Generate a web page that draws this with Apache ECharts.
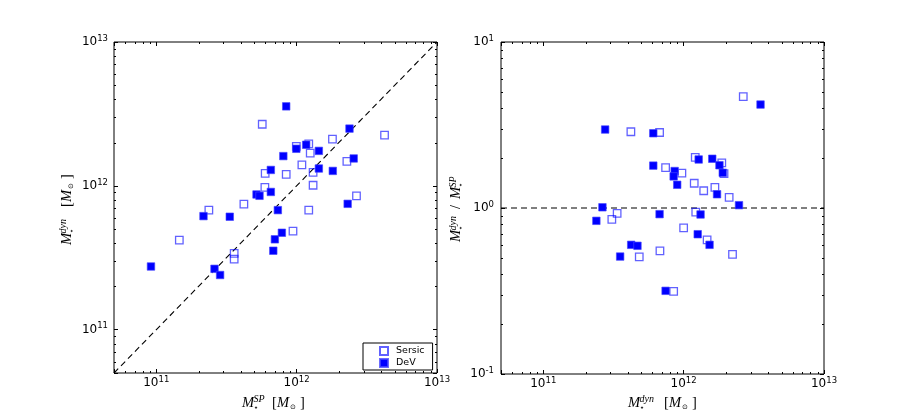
<!DOCTYPE html>
<html>
<head>
<meta charset="utf-8">
<script src="https://cdn.jsdelivr.net/npm/echarts@6/dist/echarts.min.js"></script>
<style>
html, body { margin: 0; padding: 0; background: #fff; }
#container { width: 915px; height: 416px; }
</style>
</head>
<body>
<div id="container"></div>
<script>
// left panel: M_SP vs M_dyn
var sersicLeft = [
    [5.69e11, 2.68e12], [4.23e12, 2.25e12], [1.80e12, 2.11e12], [9.95e11, 1.88e12],
    [1.22e12, 1.96e12], [1.25e12, 1.69e12], [1.09e12, 1.40e12], [1.31e12, 1.24e12],
    [2.28e12, 1.48e12], [5.97e11, 1.22e12], [8.43e11, 1.20e12], [1.31e12, 1.01e12],
    [5.94e11, 9.75e11], [2.67e12, 8.53e11], [4.21e11, 7.47e11], [2.37e11, 6.78e11],
    [1.22e12, 6.78e11], [9.42e11, 4.84e11], [3.59e11, 3.39e11], [3.59e11, 3.09e11],
    [1.46e11, 4.20e11]
];
var devLeft = [
    [8.43e11, 3.57e12], [2.38e12, 2.50e12], [9.95e11, 1.81e12], [1.17e12, 1.93e12],
    [1.44e12, 1.75e12], [8.04e11, 1.61e12], [6.55e11, 1.29e12], [1.44e12, 1.32e12],
    [1.81e12, 1.27e12], [2.55e12, 1.55e12], [5.18e11, 8.71e11], [5.44e11, 8.53e11],
    [6.55e11, 9.07e11], [2.31e12, 7.50e11], [7.35e11, 6.78e11], [2.17e11, 6.16e11],
    [3.34e11, 6.10e11], [7.00e11, 4.25e11], [7.85e11, 4.72e11], [6.82e11, 3.54e11],
    [9.17e10, 2.75e11], [2.60e11, 2.65e11], [2.85e11, 2.40e11]
];
// right panel: M_dyn vs M_dyn / M_SP
var sersicRight = [
    [2.66e12, 4.69], [4.21e11, 2.88], [6.74e11, 2.85], [7.44e11, 1.75],
    [1.21e12, 2.02], [1.87e12, 1.87], [1.94e12, 1.61], [9.72e11, 1.62],
    [1.19e12, 1.41], [1.39e12, 1.27], [1.67e12, 1.33], [2.11e12, 1.16],
    [3.36e11, 0.927], [3.08e11, 0.853], [1.22e12, 0.944], [1.00e12, 0.76],
    [1.47e12, 0.643], [6.78e11, 0.552], [4.83e11, 0.508], [2.23e12, 0.525],
    [8.49e11, 0.315]
];
var devRight = [
    [3.53e12, 4.20], [2.76e11, 2.97], [6.08e11, 2.82], [6.08e11, 1.80],
    [1.28e12, 1.96], [1.60e12, 1.98], [1.80e12, 1.81], [1.90e12, 1.63],
    [8.63e11, 1.67], [8.49e11, 1.55], [9.00e11, 1.38], [1.73e12, 1.21],
    [2.48e12, 1.04], [2.64e11, 1.01], [6.74e11, 0.918], [1.32e12, 0.914],
    [2.39e11, 0.837], [1.26e12, 0.695], [4.23e11, 0.60], [4.69e11, 0.592],
    [1.53e12, 0.60], [3.53e11, 0.51], [7.44e11, 0.317]
];

var massRange = [5e10, 1e13];
var ratioRange = [0.1, 10];
var oneToOne = [[5e10, 5e10], [1e13, 1e13]];
var unityRatio = [[5e10, 1], [1e13, 1]];
var minorMults = [2, 3, 4, 5, 6, 7, 8, 9];
var massDecades = [1e10, 1e11, 1e12];
var ratioDecades = [0.1, 1];

function minorTicks(decades, range) {
    var out = [];
    decades.forEach(function (d) {
        minorMults.forEach(function (m) {
            var v = m * d;
            if (v > range[0] && v < range[1]) out.push(v);
        });
    });
    return out;
}

function powLabel(v) {
    var e = Math.log10(v);
    var r = Math.round(e);
    if (Math.abs(e - r) > 1e-6) return '';
    return '{b|10}{s|' + r + '}';
}

var labelRich = {
    b: { fontFamily: 'DejaVu Sans', fontSize: 12, color: '#000', lineHeight: 16 },
    s: { fontFamily: 'DejaVu Sans', fontSize: 8.5, color: '#000', lineHeight: 8, verticalAlign: 'top' }
};

function axis(pos, gridIndex, range, labels, margin) {
    return {
        type: 'log',
        logBase: 10,
        gridIndex: gridIndex,
        position: pos,
        min: range[0],
        max: range[1],
        axisLine: { show: false },
        splitLine: { show: false },
        axisTick: { show: true, inside: true, length: 4, lineStyle: { color: '#000', width: 1 } },
        axisLabel: {
            show: labels,
            margin: margin,
            formatter: powLabel,
            rich: labelRich,
            showMinLabel: true,
            showMaxLabel: true,
            hideOverlap: false
        }
    };
}

function minorSeries(values, dir, xi, yi, fixed) {
    return {
        type: 'custom',
        xAxisIndex: xi,
        yAxisIndex: yi,
        silent: true,
        z: 1,
        data: values.map(function (v) { return dir === 'x' ? [v, fixed] : [fixed, v]; }),
        renderItem: function (params, api) {
            var p = api.coord([api.value(0), api.value(1)]);
            var cs = params.coordSys;
            var st = { stroke: '#000', lineWidth: 1 };
            if (dir === 'x') {
                var x = Math.round(p[0]) + 0.5;
                return { type: 'group', children: [
                    { type: 'line', shape: { x1: x, y1: cs.y + cs.height, x2: x, y2: cs.y + cs.height - 2 }, style: st },
                    { type: 'line', shape: { x1: x, y1: cs.y, x2: x, y2: cs.y + 2 }, style: st }
                ] };
            }
            var y = Math.round(p[1]) + 0.5;
            return { type: 'group', children: [
                { type: 'line', shape: { x1: cs.x, y1: y, x2: cs.x + 2, y2: y }, style: st },
                { type: 'line', shape: { x1: cs.x + cs.width, y1: y, x2: cs.x + cs.width - 2, y2: y }, style: st }
            ] };
        }
    };
}

var openStyle = { color: 'rgba(255,255,255,0)', borderColor: 'rgba(0,0,255,0.62)', borderWidth: 1.3, opacity: 1 };
var fillStyle = { color: '#0000ff', borderColor: 'rgba(70,70,255,0.8)', borderWidth: 0.8, opacity: 1 };

function scatter(name, data, xi, yi, style) {
    return {
        name: name,
        type: 'scatter',
        xAxisIndex: xi,
        yAxisIndex: yi,
        symbol: 'rect',
        symbolSize: 7.5,
        itemStyle: style,
        z: 3,
        emphasis: { disabled: true },
        data: data
    };
}

function dashed(data, xi, yi) {
    return {
        type: 'line',
        xAxisIndex: xi,
        yAxisIndex: yi,
        data: data,
        symbol: 'none',
        silent: true,
        clip: true,
        z: 2,
        lineStyle: { color: '#000', width: 1.1, type: [6, 4] }
    };
}

// math-style axis titles built from small text pieces
var serif = '"Liberation Serif", "DejaVu Serif", serif';
function t(text, x, y, size, italic, fam) {
    return {
        type: 'text', x: x, y: y, silent: true,
        style: {
            text: text, fill: '#000',
            font: (italic ? 'italic ' : '') + size + 'px ' + (fam || serif),
            verticalAlign: 'middle', align: 'left'
        }
    };
}
function massPart(x0, sup) {
    return [
        t('M', x0, 0, 14.5, true),
        t(sup, x0 + 11.5, -3.5, 10, true),
        t('\u22c6', x0 + 11.5, 4.5, 8, false, '"DejaVu Sans"')
    ];
}
function unitPart(x0) {
    return [
        t('[', x0, 0, 14.5, false),
        t('M', x0 + 5, 0, 14.5, true),
        t('\u2299', x0 + 18, 4.5, 7, false, '"DejaVu Sans"'),
        t(']', x0 + 28, 0, 14.5, false)
    ];
}
function title(x, y, rot, children) {
    return { type: 'group', x: x, y: y, rotation: rot, children: children };
}

var dom = document.getElementById('container');
var chart = echarts.init(dom, null, { renderer: 'canvas' });

var option = {
    backgroundColor: '#fff',
    animation: false,
    grid: [
        { left: 114, top: 42, width: 323, height: 331, show: true, borderColor: '#000', borderWidth: 1, backgroundColor: 'transparent' },
        { left: 501, top: 42, width: 323, height: 332, show: true, borderColor: '#000', borderWidth: 1, backgroundColor: 'transparent' }
    ],
    xAxis: [
        axis('bottom', 0, massRange, true, 2),
        axis('top', 0, massRange, false, 2),
        axis('bottom', 1, massRange, true, 2),
        axis('top', 1, massRange, false, 2)
    ],
    yAxis: [
        axis('left', 0, massRange, true, 6),
        axis('right', 0, massRange, false, 6),
        axis('left', 1, ratioRange, true, 7),
        axis('right', 1, ratioRange, false, 7)
    ],
    legend: {
        data: ['Sersic', 'DeV'],
        orient: 'vertical',
        left: 363,
        top: 343,
        width: 60,
        padding: [3, 8, 2, 16],
        itemGap: 2,
        itemWidth: 8,
        itemHeight: 8,
        borderColor: '#000',
        borderWidth: 1,
        backgroundColor: '#fff',
        selectedMode: false,
        textStyle: { fontFamily: 'DejaVu Sans', fontSize: 9.5, color: '#000', padding: [0, 0, 0, 3] }
    },
    graphic: [
        title(242, 403, 0, massPart(0, 'SP').concat(unitPart(30))),
        title(67, 245, Math.PI / 2, massPart(0, 'dyn').concat(unitPart(38))),
        title(628, 403, 0, massPart(0, 'dyn').concat(unitPart(36))),
        title(456.5, 242, Math.PI / 2, massPart(0, 'dyn').concat([t('/', 33, 0, 14.5, false)]).concat(massPart(43, 'SP')))
    ],
    series: [
        dashed(oneToOne, 0, 0),
        scatter('Sersic', sersicLeft, 0, 0, openStyle),
        scatter('DeV', devLeft, 0, 0, fillStyle),
        dashed(unityRatio, 2, 2),
        scatter('Sersic', sersicRight, 2, 2, openStyle),
        scatter('DeV', devRight, 2, 2, fillStyle),
        minorSeries(minorTicks(massDecades, massRange), 'x', 0, 0, massRange[0]),
        minorSeries(minorTicks(massDecades, massRange), 'y', 0, 0, massRange[0]),
        minorSeries(minorTicks(massDecades, massRange), 'x', 2, 2, ratioRange[0]),
        minorSeries(minorTicks(ratioDecades, ratioRange), 'y', 2, 2, massRange[0])
    ]
};

chart.setOption(option);
window.addEventListener('resize', chart.resize);
</script>
</body>
</html>
